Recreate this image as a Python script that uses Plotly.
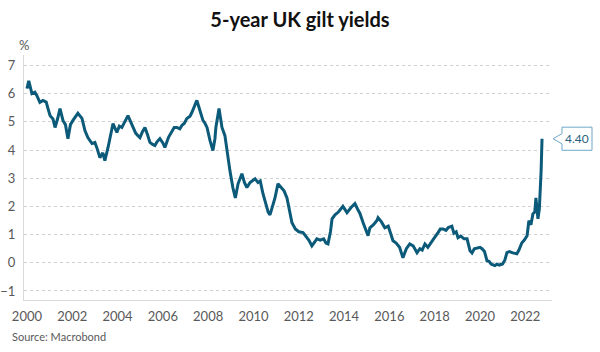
import plotly.graph_objects as go

title_text = "5-year UK gilt yields"
source_text = "Source: Macrobond"
unit_text = "%"

years = [
    2000.00, 2000.04, 2000.08, 2000.22, 2000.35, 2000.44, 2000.57, 2000.71, 2000.85, 2000.93,
    2001.02, 2001.15, 2001.24, 2001.35, 2001.46, 2001.59, 2001.70, 2001.81, 2001.92,
    2002.03, 2002.25, 2002.35, 2002.43, 2002.56, 2002.69, 2002.87,
    2003.00, 2003.10, 2003.22, 2003.35, 2003.44, 2003.58, 2003.70, 2003.80, 2003.97,
    2004.08, 2004.19, 2004.35, 2004.46, 2004.58, 2004.68, 2004.80, 2004.90, 2004.99,
    2005.10, 2005.21, 2005.32, 2005.43, 2005.55, 2005.65, 2005.75, 2005.87,
    2006.00, 2006.09, 2006.25, 2006.40, 2006.50, 2006.62, 2006.75, 2006.84, 2006.95,
    2007.06, 2007.20, 2007.28, 2007.40, 2007.50, 2007.58, 2007.64, 2007.77, 2007.86, 2007.95,
    2008.08, 2008.21, 2008.30, 2008.34, 2008.48, 2008.55, 2008.61, 2008.74, 2008.83, 2008.96,
    2009.09, 2009.20, 2009.32, 2009.40, 2009.49, 2009.60, 2009.71, 2009.85,
    2010.00, 2010.07, 2010.20, 2010.30, 2010.42, 2010.55, 2010.65, 2010.73, 2010.85, 2010.95,
    2011.08, 2011.20, 2011.35, 2011.48, 2011.60, 2011.70, 2011.85,
    2012.00, 2012.19, 2012.30, 2012.45, 2012.58, 2012.70, 2012.80, 2012.95,
    2013.10, 2013.20, 2013.29, 2013.40, 2013.47, 2013.60, 2013.75, 2013.95,
    2014.05, 2014.13, 2014.30, 2014.40, 2014.48, 2014.60, 2014.70, 2014.85,
    2015.00, 2015.06, 2015.14, 2015.30, 2015.45, 2015.50, 2015.65, 2015.80, 2015.95,
    2016.05, 2016.16, 2016.30, 2016.45, 2016.60, 2016.75, 2016.90,
    2017.05, 2017.22, 2017.35, 2017.45, 2017.57, 2017.70, 2017.88,
    2018.00, 2018.15, 2018.25, 2018.37, 2018.50, 2018.60, 2018.76, 2018.85, 2018.95,
    2019.03, 2019.15, 2019.30, 2019.43, 2019.56, 2019.65, 2019.75, 2019.87,
    2020.00, 2020.09, 2020.20, 2020.31, 2020.40, 2020.50, 2020.66, 2020.75, 2020.85,
    2021.00, 2021.10, 2021.19, 2021.30, 2021.45, 2021.63, 2021.72, 2021.85, 2021.95,
    2022.08, 2022.16, 2022.25, 2022.34, 2022.42, 2022.47, 2022.52, 2022.56, 2022.62,
    2022.65, 2022.70, 2022.74,
]
yields = [
    6.18, 6.40, 6.45, 6.00, 6.05, 5.93, 5.69, 5.76, 5.70, 5.47,
    5.22, 5.10, 4.80, 5.10, 5.47, 5.05, 4.90, 4.40, 4.90,
    5.05, 5.30, 5.20, 5.12, 4.69, 4.44, 4.23,
    4.27, 4.05, 3.73, 3.90, 3.62, 4.09, 4.50, 4.94, 4.62,
    4.85, 4.80, 5.05, 5.22, 5.00, 4.80, 4.60, 4.51, 4.44,
    4.65, 4.80, 4.55, 4.27, 4.20, 4.16, 4.30, 4.40,
    4.25, 4.09, 4.45, 4.69, 4.80, 4.80, 4.75, 4.87, 4.95,
    5.12, 5.20, 5.33, 5.55, 5.76, 5.55, 5.40, 5.05, 4.95, 4.80,
    4.34, 3.98, 4.40, 4.80, 5.47, 5.10, 4.80, 4.51, 3.98, 3.27,
    2.67, 2.30, 2.80, 2.95, 3.16, 2.85, 2.67, 2.85,
    2.95, 2.98, 2.85, 2.90, 2.45, 2.10, 1.80, 1.70, 2.00, 2.30,
    2.80, 2.70, 2.55, 2.30, 1.80, 1.42, 1.20,
    1.10, 1.07, 0.95, 0.80, 0.60, 0.75, 0.85, 0.80,
    0.85, 0.70, 0.67, 1.10, 1.56, 1.70, 1.80, 2.00,
    1.85, 1.78, 1.95, 2.05, 2.10, 1.90, 1.75, 1.40,
    1.10, 0.96, 1.24, 1.35, 1.50, 1.60, 1.45, 1.24, 1.30,
    1.05, 0.78, 0.70, 0.55, 0.18, 0.50, 0.67,
    0.60, 0.36, 0.50, 0.45, 0.67, 0.55, 0.78,
    0.90, 1.07, 1.20, 1.20, 1.15, 1.25, 1.30, 1.05, 1.10,
    0.89, 0.95, 0.85, 0.85, 0.43, 0.35, 0.50, 0.53,
    0.55, 0.50, 0.40, 0.07, 0.05, -0.05, -0.10, -0.05, -0.08,
    -0.04, 0.10, 0.36, 0.40, 0.35, 0.32, 0.45, 0.71, 0.80,
    0.96, 1.49, 1.35, 1.74, 1.80, 2.30, 1.80, 1.56, 1.90,
    2.30, 3.27, 4.40,
]
x_ticks = [2000, 2002, 2004, 2006, 2008, 2010, 2012, 2014, 2016, 2018, 2020, 2022]
y_ticks = [-1, 0, 1, 2, 3, 4, 5, 6, 7]

line_color = "#0c5a79"
grey_text = "#595959"
font_family = "Lato, 'Open Sans', sans-serif"

# plot area in pixels
L, R, T, B = 24, 552, 55, 300
W, H = 600, 352
PW, PH = R - L, B - T

def px_x(px):
    return (px - L) / PW

def px_y(py):
    return (B - py) / PH

last_value = yields[-1]

fig = go.Figure()
fig.add_trace(go.Scatter(
    x=years, y=yields, mode="lines",
    line=dict(color=line_color, width=3),
    hoverinfo="skip", showlegend=False,
))

# Callout box with notch pointing to last value
tip_x, box_l, box_r = px_x(553), px_x(562), px_x(592)
box_h, notch_h = 0.41, 0.18
v = last_value
path = (f"M {box_l} {v + box_h} L {box_r} {v + box_h} L {box_r} {v - box_h} "
        f"L {box_l} {v - box_h} L {box_l} {v - notch_h} L {tip_x} {v} "
        f"L {box_l} {v + notch_h} Z")
fig.add_shape(type="path", path=path, xref="paper", yref="y",
              line=dict(color="#6fa7c7", width=1), fillcolor="white", layer="above")
fig.add_annotation(x=(box_l + box_r) / 2, y=v, xref="paper", yref="y",
                   xanchor="center", yanchor="middle",
                   text=f"{last_value:.2f}", showarrow=False,
                   font=dict(size=12, color="#2b5f7e", family=font_family))

fig.add_annotation(x=px_x(24), y=px_y(45), xref="paper", yref="paper",
                   xanchor="center", yanchor="middle", text=unit_text, showarrow=False,
                   font=dict(size=13, color=grey_text, family=font_family))
fig.add_annotation(x=px_x(10), y=px_y(336), xref="paper", yref="paper",
                   text=source_text, showarrow=False, xanchor="left", yanchor="middle",
                   font=dict(size=11, color=grey_text, family=font_family))

fig.update_layout(
    width=W, height=H,
    margin=dict(l=L, r=W - R, t=T, b=H - B, autoexpand=False),
    paper_bgcolor="white", plot_bgcolor="white",
    title=dict(text=f"<b>{title_text}</b>", x=0.5, xanchor="center", y=1 - 20 / H,
               yanchor="middle", font=dict(size=20, color="#111111", family=font_family)),
    xaxis=dict(
        range=[1999.87, 2023.18], tickmode="array", tickvals=x_ticks,
        ticktext=[str(t) for t in x_ticks], showgrid=False, zeroline=False,
        showline=True, linecolor="#d9d9d9", linewidth=1, automargin=False,
        ticks="outside", ticklen=4, tickcolor="rgba(0,0,0,0)",
        tickfont=dict(size=13, color=grey_text, family=font_family),
    ),
    yaxis=dict(
        range=[-1.32, 7.37], tickmode="array", tickvals=y_ticks,
        showgrid=True, gridcolor="#d0d0d0", griddash="dot", gridwidth=1,
        zeroline=False, showline=True, linecolor="#d9d9d9", linewidth=1,
        automargin=False,
        ticks="outside", ticklen=5, tickcolor="rgba(0,0,0,0)",
        tickfont=dict(size=13, color=grey_text, family=font_family),
    ),
)

fig.write_html("out.html")
